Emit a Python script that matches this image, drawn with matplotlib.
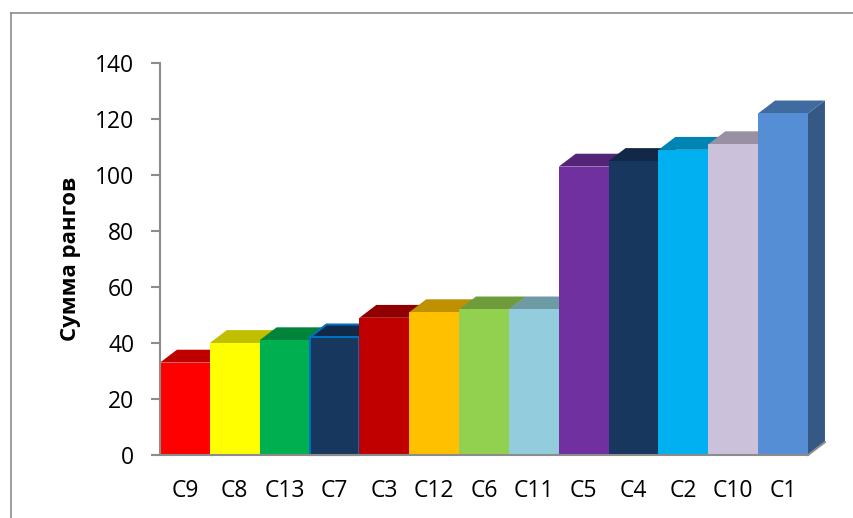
import numpy as np
import matplotlib
matplotlib.use("Agg")
import matplotlib.pyplot as plt
from matplotlib.patches import Polygon, Rectangle
from matplotlib.lines import Line2D
import matplotlib.colors as mcolors

# data (sorted ascending, as in the source chart)
labels = ["C9", "C8", "C13", "C7", "C3", "C12", "C6", "C11", "C5", "C4", "C2", "C10", "C1"]
values = [33, 40, 41, 42, 49, 51, 52, 52, 103, 105, 109, 111, 122]
colors = ["#FF0000", "#FFFF00", "#00B050", "#17375E", "#C00000", "#FFC000", "#92D050",
          "#93CDDD", "#7030A0", "#17375E", "#00B0F0", "#CCC1DA", "#558ED5"]
y_ticks = [0, 20, 40, 60, 80, 100, 120, 140]

plt.rcParams['font.family'] = ['Open Sans', 'DejaVu Sans']

fig = plt.figure(figsize=(8.54, 5.18), dpi=100)
W, H = 854, 518
ax = fig.add_axes([160 / W, (H - 455) / H, 648 / W, 392 / H])

ax.set_xlim(-0.5, len(values) - 0.5)
ax.set_ylim(0, 140)

# fake 3D depth (data units)
DX, DY = 0.34, 4.6
width = 1.0


def shade(c, f):
    r, g, b = mcolors.to_rgb(c)
    return (r * f, g * f, b * f)


for i, (v, c) in enumerate(zip(values, colors)):
    x0 = i - width / 2
    x1 = i + width / 2
    edge = "#0070C0" if labels[i] == "C7" else "none"
    top = Polygon([(x0, v), (x1, v), (x1 + DX, v + DY), (x0 + DX, v + DY)],
                  closed=True, facecolor=shade(c, 0.75), edgecolor=edge,
                  linewidth=1.5, clip_on=False, zorder=2 + i)
    side = Polygon([(x1, 0), (x1 + DX, DY), (x1 + DX, v + DY), (x1, v)],
                   closed=True, facecolor=shade(c, 0.62), edgecolor="none",
                   clip_on=False, zorder=2 + i)
    ax.add_patch(side)
    ax.add_patch(top)
    ax.add_patch(Rectangle((x0, 0), width, v, facecolor=c, edgecolor=edge,
                           linewidth=1.5, clip_on=False, zorder=2 + i + 0.5))

# floor edge at the right end
n = len(values)
ax.add_line(Line2D([n - 0.5, n - 0.5 + DX], [0, DY], color="#8C8C8C", lw=1.5,
                   clip_on=False, zorder=30))

for s in ["top", "right"]:
    ax.spines[s].set_visible(False)
for s in ["left", "bottom"]:
    ax.spines[s].set_color("#8C8C8C")
    ax.spines[s].set_linewidth(1.5)
    ax.spines[s].set_zorder(25)

ax.set_yticks(y_ticks)
ax.tick_params(axis="y", length=6.5, width=1.5, color="#8C8C8C", pad=12,
               labelsize=16.5)
ax.set_xticks(range(n))
ax.set_xticklabels(labels)
ax.tick_params(axis="x", length=0, pad=17, labelsize=16.5)

ax.set_ylabel("Сумма рангов", fontsize=16, fontweight="bold", labelpad=10)

# outer chart frame (only top and left are inside the image)
fig.add_artist(Line2D([11 / W, 1], [1 - 13 / H, 1 - 13 / H], color="#8C8C8C",
                      lw=1.2, transform=fig.transFigure))
fig.add_artist(Line2D([11 / W, 11 / W], [0, 1 - 13 / H], color="#8C8C8C",
                      lw=1.2, transform=fig.transFigure))

fig.savefig("out.png", dpi=100)
